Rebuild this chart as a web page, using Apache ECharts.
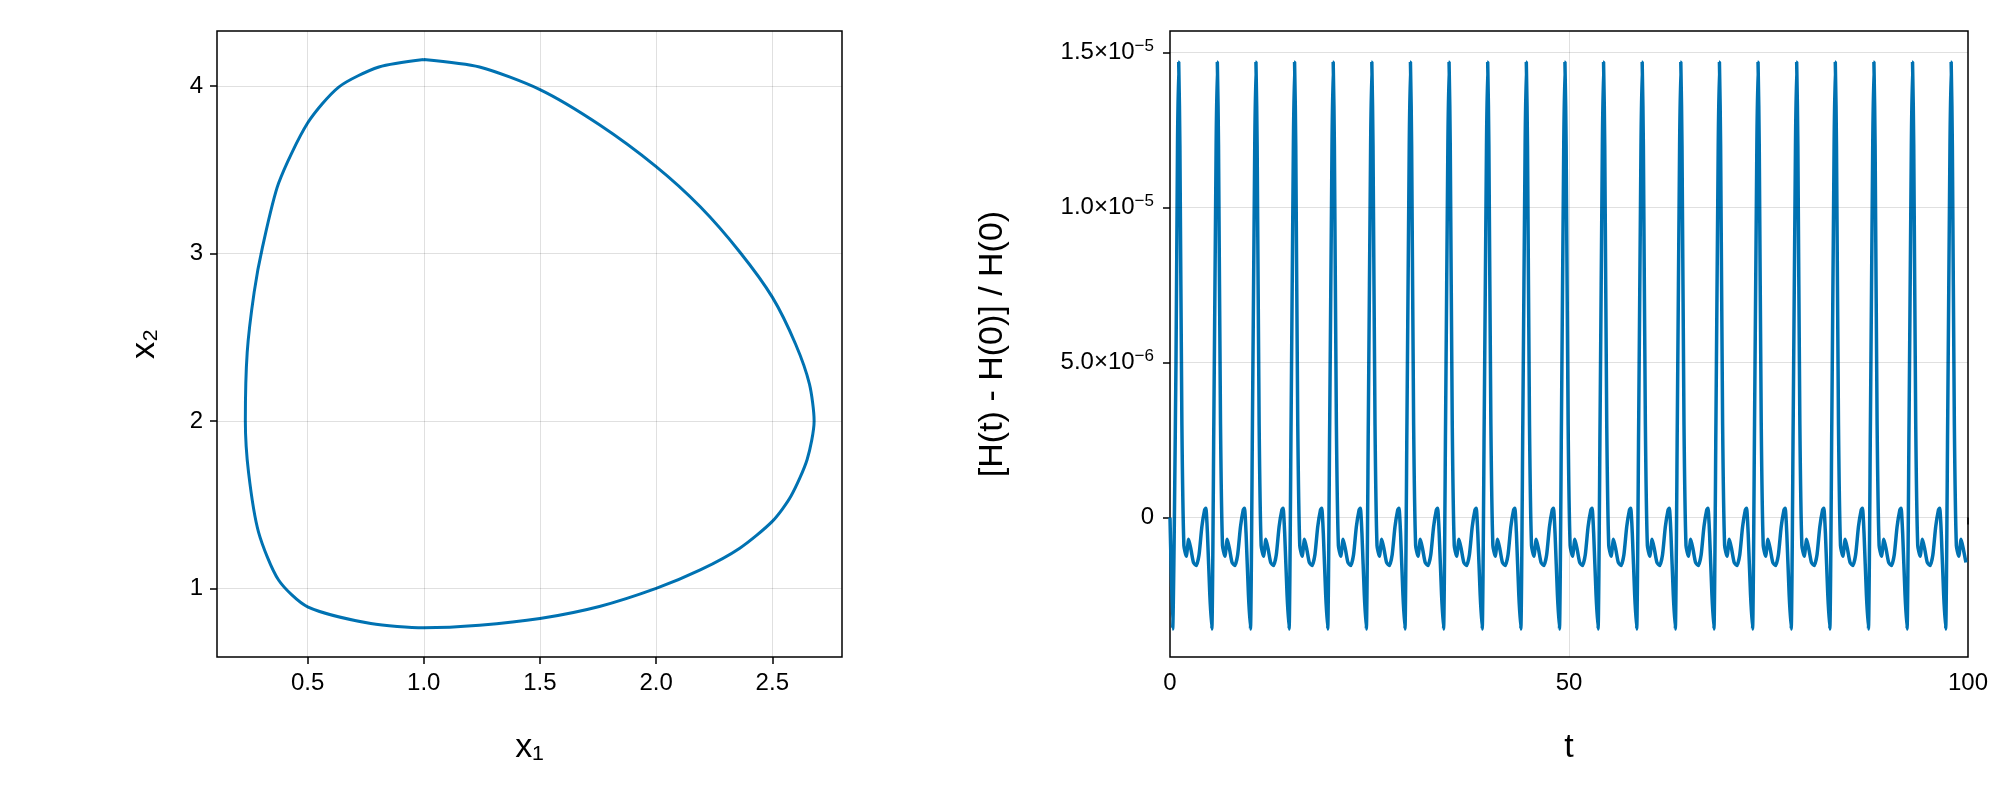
<!DOCTYPE html>
<html>
<head>
<meta charset="utf-8">
<script src="https://cdn.jsdelivr.net/npm/echarts@6/dist/echarts.min.js"></script>
<style>html,body{margin:0;padding:0;background:#fff}#chart{width:2000px;height:800px}</style>
</head>
<body>
<div id="chart"></div>
<script>
// phase portrait points (x1, x2)
const loopX1 = [1.0, 1.24, 1.5, 1.756, 2.0, 2.19, 2.36, 2.5, 2.6, 2.66, 2.68, 2.65, 2.58, 2.5, 2.36, 2.19, 2.0, 1.756, 1.5, 1.24, 1.0, 0.772, 0.5, 0.375, 0.289, 0.246, 0.232, 0.24, 0.27, 0.306, 0.375, 0.5, 0.634, 0.807, 1.0];
const loopX2 = [4.16, 4.115, 3.98, 3.77, 3.52, 3.28, 3.01, 2.74, 2.46, 2.22, 2.0, 1.77, 1.55, 1.40, 1.24, 1.11, 1.0, 0.892, 0.82, 0.78, 0.765, 0.79, 0.89, 1.05, 1.335, 1.69, 2.0, 2.41, 2.77, 3.04, 3.42, 3.78, 3.995, 4.115, 4.16];
const leftXTicks = [0.5, 1.0, 1.5, 2.0, 2.5];
const leftYTicks = [1, 2, 3, 4];

// energy error (units of 1e-6): start of run, peak times, one cycle's shape around a peak
const startT = [0, 0.33, 0.75];
const startV = [0, -3.6, 5];
const peakTimes = [1.09, 5.93, 10.77, 15.61, 20.45, 25.29, 30.13, 34.97, 39.81, 44.65, 49.49, 54.33, 59.17, 64.01, 68.85, 73.69, 78.53, 83.37, 88.21, 93.05, 97.89];
const cycleDt = [-0.15, 0, 0.15, 0.4, 0.65, 0.95, 1.25, 1.55, 1.85, 2.2, 2.55, 2.9, 3.25, 3.4, 3.6, 3.9, 4.15, 4.4];
const cycleV = [12, 14.7, 12, 3, -0.9, -1.25, -0.7, -1.05, -1.45, -1.55, -1.2, -0.3, 0.25, 0.3, -0.5, -2.5, -3.6, 3];
const rightYTicks = [0, 5, 10, 15];
const rightYMant = ['0', '5.0', '1.0', '1.5'];
const rightYExp = ['', '−6', '−5', '−5'];

const blue = '#0072b2';
const font = 'Liberation Sans';

const loopData = loopX1.map((x, i) => [x, loopX2[i]]);
const errData = startT.map((t, i) => [t, startV[i]]);
peakTimes.forEach(p => {
    cycleDt.forEach((d, i) => {
        const t = p + d;
        if (t > errData[errData.length - 1][0] && t <= 100) errData.push([t, cycleV[i]]);
    });
});

const gridLine = { silent: true, symbol: 'none', label: { show: false }, lineStyle: { color: '#000', opacity: 0.12, type: 'solid', width: 1 } };
const gl = (axis, vals) => vals.map(v => ({ [axis]: v }));

const axisCommon = {
    axisLine: { show: false },
    axisTick: { show: true, inside: false, length: 7, lineStyle: { color: '#000', width: 1.5 } },
    axisLabel: { color: '#000', fontSize: 24, fontFamily: font },
    splitLine: { show: false },
    nameTextStyle: { color: '#000', fontSize: 34, fontFamily: font }
};

const sciLabel = v => {
    const i = rightYTicks.indexOf(v);
    if (!rightYExp[i]) return rightYMant[i];
    return '{m|' + rightYMant[i] + '×10}{e|' + rightYExp[i] + '}';
};

const chart = echarts.init(document.getElementById('chart'));
chart.setOption({
    animation: false,
    grid: [
        { left: 217, top: 31, width: 625, height: 626, show: true, borderColor: '#000', borderWidth: 1.5, backgroundColor: '#fff' },
        { left: 1170, top: 31, width: 798, height: 626, show: true, borderColor: '#000', borderWidth: 1.5, backgroundColor: '#fff' }
    ],
    xAxis: [
        Object.assign({}, axisCommon, { gridIndex: 0, type: 'value', min: 0.11, max: 2.8, name: 'x₁', nameLocation: 'middle', nameGap: 74,
            axisTick: Object.assign({}, axisCommon.axisTick, { customValues: leftXTicks }),
            axisLabel: Object.assign({}, axisCommon.axisLabel, { margin: 14, customValues: leftXTicks, formatter: v => v.toFixed(1) }) }),
        Object.assign({}, axisCommon, { gridIndex: 1, type: 'value', min: 0, max: 100, interval: 50, name: 't', nameLocation: 'middle', nameGap: 74,
            axisLabel: Object.assign({}, axisCommon.axisLabel, { margin: 14 }) })
    ],
    yAxis: [
        Object.assign({}, axisCommon, { gridIndex: 0, type: 'value', min: 0.59, max: 4.33, name: 'x₂', nameLocation: 'middle', nameGap: 55,
            axisTick: Object.assign({}, axisCommon.axisTick, { customValues: leftYTicks }),
            axisLabel: Object.assign({}, axisCommon.axisLabel, { margin: 14, customValues: leftYTicks }) }),
        Object.assign({}, axisCommon, { gridIndex: 1, type: 'value', min: -4.5, max: 15.7, name: '[H(t) - H(0)] / H(0)', nameLocation: 'middle', nameGap: 160,
            axisTick: Object.assign({}, axisCommon.axisTick, { customValues: rightYTicks }),
            axisLabel: Object.assign({}, axisCommon.axisLabel, { margin: 16, customValues: rightYTicks, formatter: sciLabel,
                rich: {
                    m: { fontSize: 24, fontFamily: font, color: '#000' },
                    e: { fontSize: 17, fontFamily: font, color: '#000', padding: [0, 0, 12, 0] }
                } }) })
    ],
    series: [
        {
            type: 'line', xAxisIndex: 0, yAxisIndex: 0, data: loopData, showSymbol: false, smooth: 0.25,
            lineStyle: { color: blue, width: 3 },
            markLine: Object.assign({}, gridLine, { data: gl('xAxis', leftXTicks).concat(gl('yAxis', leftYTicks)) }),
            z: 3
        },
        {
            type: 'line', xAxisIndex: 1, yAxisIndex: 1, data: errData, showSymbol: false, smooth: 0.2,
            lineStyle: { color: blue, width: 3.5 },
            markLine: Object.assign({}, gridLine, { data: gl('xAxis', [50]).concat(gl('yAxis', rightYTicks)) }),
            z: 3
        }
    ]
});
</script>
</body>
</html>
